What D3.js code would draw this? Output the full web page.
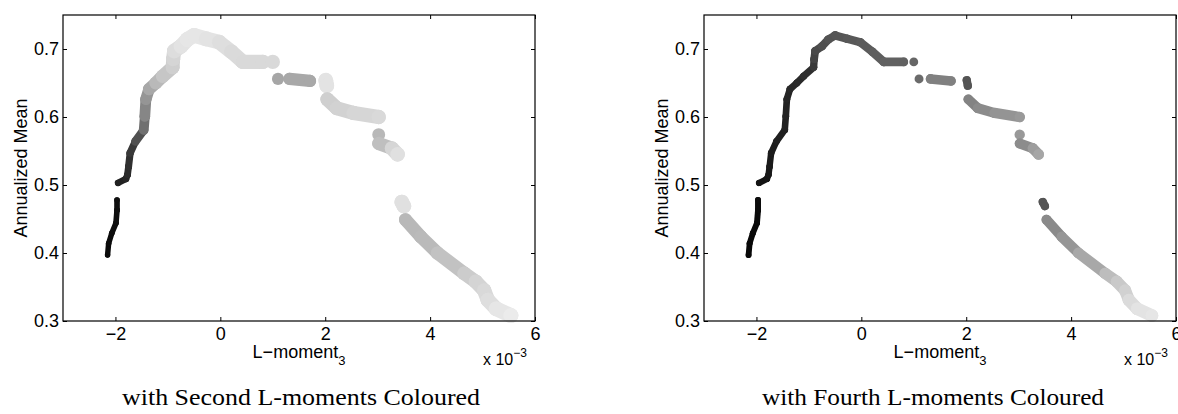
<!DOCTYPE html>
<html><head><meta charset="utf-8">
<script src="https://cdn.jsdelivr.net/npm/d3@7"></script>
<style>body{margin:0;background:#fff} svg{display:block}</style>
</head><body>
<svg id="c" width="1178" height="414"></svg>
<script>
// Third L-moment (units of 1e-3)
const lmom3 = [-2.15,-2.13,-2.07,-1.99,-1.97,-1.97,
  -1.95,-1.80,-1.77,-1.75,-1.72,-1.62,-1.46,-1.44,-1.42,-1.36,-1.23,-1.10,-0.91,-0.90,-0.88,-0.75,-0.63,-0.50,-0.27,-0.02,0.21,0.43,0.81,
  1.00, 1.10, 1.32,1.71, 2.01,2.03, 2.04,2.22,2.54,3.02, 3.02, 3.02,3.27,3.38, 3.46,3.50,
  3.53,3.82,4.14,4.65,4.87,5.03,5.10,5.26,5.54];
// Annualized mean
const annMean = [0.397,0.414,0.429,0.444,0.463,0.478,
  0.503,0.509,0.515,0.527,0.547,0.564,0.581,0.601,0.626,0.641,0.650,0.660,0.673,0.685,0.697,0.704,0.714,0.720,0.715,0.710,0.696,0.681,0.681,
  0.681, 0.656, 0.656,0.653, 0.654,0.646, 0.626,0.613,0.606,0.600, 0.574, 0.561,0.554,0.545, 0.475,0.469,
  0.449,0.424,0.400,0.370,0.358,0.345,0.331,0.318,0.308];
// contiguous stroke id
const strokeId = [0,0,0,0,0,0,
  1,1,1,1,1,1,1,1,1,1,1,1,1,1,1,1,1,1,1,1,1,1,1,
  2, 3, 4,4, 5,5, 6,6,6,6, 7, 8,8,8, 9,9,
  10,10,10,10,10,10,10,10,10];
// second L-moment (gray colormap position)
const l2Colour = [0.04,0.04,0.05,0.05,0.06,0.06,
  0.12,0.14,0.16,0.18,0.20,0.25,0.38,0.50,0.55,0.62,0.70,0.75,0.80,0.82,0.85,0.88,0.90,0.90,0.90,0.88,0.86,0.85,0.85,
  0.85, 0.65, 0.66,0.66, 0.89,0.89, 0.80,0.82,0.83,0.85, 0.72, 0.70,0.80,0.88, 0.88,0.88,
  0.72,0.72,0.74,0.78,0.82,0.84,0.86,0.88,0.92];
// fourth L-moment (gray colormap position)
const l4Colour = [0.03,0.03,0.03,0.04,0.04,0.05,
  0.08,0.08,0.09,0.10,0.10,0.12,0.12,0.13,0.14,0.15,0.16,0.17,0.20,0.25,0.28,0.30,0.32,0.33,0.34,0.35,0.36,0.38,0.38,
  0.40, 0.42, 0.50,0.50, 0.33,0.33, 0.50,0.53,0.56,0.60, 0.60, 0.52,0.58,0.65, 0.33,0.33,
  0.52,0.56,0.62,0.70,0.78,0.80,0.84,0.88,0.90];
const xTicks = [-2,0,2,4,6];
const xTickLabels = ["\u22122","0","2","4","6"];
const yTicks = [0.3,0.4,0.5,0.6,0.7];
const yTickLabels = ["0.3","0.4","0.5","0.6","0.7"];
const captions = ["with Second L-moments Coloured","with Fourth L-moments Coloured"];

const svg = d3.select("#c");
const W = 472, H = 306, TOP = 15;
const panels = [
  {left:63, colour:l2Colour, rMin:2.5, rMax:8.0, caption:captions[0], capX:238, capW:358},
  {left:704, colour:l4Colour, rMin:2.8, rMax:6.8, caption:captions[1], capX:229, capW:342}
];
const sans = "'Liberation Sans', Arial, Helvetica, sans-serif";
const x = d3.scaleLinear().domain([-3,6]).range([0,W]);
const y = d3.scaleLinear().domain([0.3,0.75]).range([H,0]);
const grey = c => { const v = Math.round(c*255); return `rgb(${v},${v},${v})`; };

panels.forEach(p => {
  const g = svg.append("g").attr("transform",`translate(${p.left},${TOP})`);
  const rad = d3.scaleLinear().domain([0,1]).range([p.rMin,p.rMax]);
  const idx = d3.range(lmom3.length);
  const marks = g.append("g");
  idx.forEach(i => {
    if (i>0 && strokeId[i]===strokeId[i-1]) {
      const c = (p.colour[i]+p.colour[i-1])/2;
      marks.append("line")
        .attr("x1",x(lmom3[i-1])).attr("y1",y(annMean[i-1]))
        .attr("x2",x(lmom3[i])).attr("y2",y(annMean[i]))
        .attr("stroke",grey(c)).attr("stroke-width",2*rad(c))
        .attr("stroke-linecap","round");
    }
    marks.append("circle")
      .attr("cx",x(lmom3[i])).attr("cy",y(annMean[i]))
      .attr("r",rad(p.colour[i])).attr("fill",grey(p.colour[i]));
  });

  const fmtX = (d,i)=>xTickLabels[i], fmtY=(d,i)=>yTickLabels[i];
  const ax = g.append("g").attr("transform",`translate(0,${H})`)
    .call(d3.axisBottom(x).tickValues(xTicks).tickFormat(fmtX).tickSizeInner(-4).tickSizeOuter(0).tickPadding(6));
  const axT = g.append("g")
    .call(d3.axisTop(x).tickValues(xTicks).tickFormat("").tickSizeInner(-4).tickSizeOuter(0));
  const ay = g.append("g")
    .call(d3.axisLeft(y).tickValues(yTicks).tickFormat(fmtY).tickSizeInner(-4).tickSizeOuter(0).tickPadding(4));
  const ayR = g.append("g").attr("transform",`translate(${W},0)`)
    .call(d3.axisRight(y).tickValues(yTicks).tickFormat("").tickSizeInner(-4).tickSizeOuter(0));
  [ax,axT,ay,ayR].forEach(a=>{
    a.select(".domain").remove();
    a.selectAll("line").attr("stroke","#000").attr("stroke-width",1);
    a.selectAll("text").attr("font-family",sans).attr("font-size",18).attr("fill","#000");
  });
  g.append("rect").attr("width",W).attr("height",H).attr("fill","none").attr("stroke","#000").attr("stroke-width",1.2);

  // axis labels
  const xl = g.append("text").attr("x",W/2).attr("y",H+37).attr("text-anchor","middle")
    .attr("font-family",sans).attr("font-size",18);
  xl.append("tspan").text("L\u2212moment");
  xl.append("tspan").attr("font-size",13).attr("dy",7).text("3");
  g.append("text").attr("transform",`translate(-36,${H/2}) rotate(-90)`).attr("text-anchor","middle")
    .attr("font-family",sans).attr("font-size",18).text("Annualized Mean");
  const mul = g.append("text").attr("x",W-52).attr("y",H+44).attr("font-family",sans).attr("font-size",16);
  mul.append("tspan").text("x 10");
  mul.append("tspan").attr("font-size",12).attr("dy",-8).text("\u22123");

  // caption
  g.append("text").attr("x",p.capX).attr("y",H+84).attr("text-anchor","middle")
    .attr("font-family","'Liberation Serif','Times New Roman',serif").attr("font-size",24)
    .attr("textLength",p.capW).attr("lengthAdjust","spacingAndGlyphs").text(p.caption);
});
</script>
</body></html>
